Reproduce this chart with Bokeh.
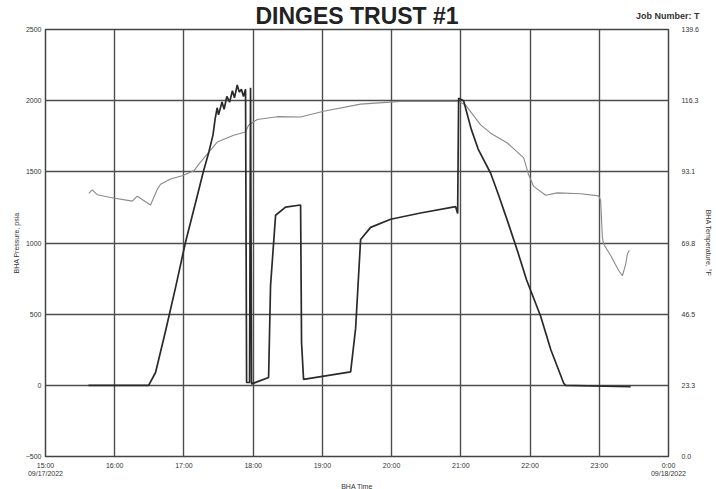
from bokeh.plotting import figure
from bokeh.models import Range1d, LinearAxis, FixedTicker, Div
from bokeh.layouts import column
from bokeh.embed import file_html
from bokeh.resources import INLINE

# ---- data (hours since midnight 09/17/2022) ----
press_t = [15.62, 16.49, 16.59, 16.73, 16.88, 17.02, 17.15, 17.28, 17.36, 17.42,
           17.45, 17.48, 17.50, 17.55, 17.58, 17.62, 17.66, 17.70, 17.73, 17.77,
           17.80, 17.83, 17.86, 17.89, 17.905, 17.948, 17.962, 17.977, 18.223,
           18.251, 18.324, 18.468, 18.685, 18.699, 18.728, 19.408, 19.480,
           19.552, 19.697, 19.986, 20.419, 20.925, 20.954, 20.968, 21.040,
           21.15, 21.25, 21.431, 21.55, 21.676, 21.821, 21.95, 22.153, 22.30,
           22.486, 22.514, 23.454]
press_v = [0, 0, 90, 373, 690, 1000, 1250, 1500, 1640, 1760,
           1870, 1950, 1900, 1990, 1940, 2030, 1990, 2070, 2020, 2110,
           2060, 2080, 2030, 2080, 20, 20, 2090, 10, 55,
           700, 1195, 1252, 1267, 300, 42, 95, 400,
           1024, 1110, 1167, 1211, 1255, 1207, 2017, 2000,
           1800, 1660, 1490, 1330, 1152, 940, 740, 485, 250,
           15, 0, -10]

temp_t = [15.626, 15.675, 15.747, 15.939, 16.253, 16.325, 16.517, 16.614,
          16.662, 16.806, 16.975, 17.143, 17.215, 17.481, 17.717, 17.890,
          17.933, 18.059, 18.348, 18.685, 19.017, 19.552, 20.130, 20.968,
          21.069, 21.286, 21.431, 21.672, 21.908, 21.980, 22.052, 22.225,
          22.395, 22.731, 22.991, 23.020, 23.045, 23.064, 23.165, 23.280,
          23.334, 23.382, 23.406, 23.434]
temp_v = [86.0, 87.2, 85.6, 84.7, 83.5, 85.1, 82.2, 87.3,
          89.0, 90.7, 91.8, 93.4, 95.6, 102.8, 105.0, 106.1,
          108.3, 110.2, 111.1, 111.0, 112.9, 115.2, 116.1, 116.1,
          114.9, 108.4, 105.7, 102.5, 97.6, 92.1, 88.3, 85.4,
          86.2, 85.9, 85.2, 83.7, 71.6, 69.4, 65.7, 60.8,
          59.1, 62.9, 66.2, 67.4]

x_ticks = [15, 16, 17, 18, 19, 20, 21, 22, 23, 24]
x_labels = ["15:00\n09/17/2022", "16:00", "17:00", "18:00", "19:00", "20:00",
            "21:00", "22:00", "23:00", "0:00\n09/18/2022"]
p_ticks = [-500, 0, 500, 1000, 1500, 2000, 2500]
t_ticks = [0.0, 23.27, 46.53, 69.8, 93.07, 116.33, 139.6]
t_labels = ["0.0", "23.3", "46.5", "69.8", "93.1", "116.3", "139.6"]
job_text = "Job Number: T"

FONT = "Liberation Sans"
GRID = "#4d4d4d"
FW, FH = 623, 427
LB, RB, TB, BB = 45, 42, 28, 32

p = figure(frame_width=FW, frame_height=FH, output_backend="svg",
           toolbar_location=None,
           x_range=Range1d(15, 24), y_range=Range1d(-500, 2500),
           min_border_left=LB, min_border_right=RB, min_border_top=TB,
           min_border_bottom=BB)
p.extra_y_ranges = {"temp": Range1d(0, 139.6)}
p.border_fill_alpha = 0.0
p.margin = (0, 0, 0, 0)

p.title.text = "DINGES TRUST #1"
p.title.align = "center"
p.title.text_font = FONT
p.title.text_font_size = "23px"
p.title.text_font_style = "bold"
p.title.text_color = "#222222"
p.title.standoff = 1
p.title.offset = -10

p.outline_line_color = "#444444"
p.outline_line_width = 1.5

# axes
xa = p.xaxis[0]
xa.ticker = FixedTicker(ticks=x_ticks)
xa.major_label_overrides = {t: l for t, l in zip(x_ticks, x_labels)}
xa.axis_label = "BHA Time"
ya = p.yaxis[0]
ya.ticker = FixedTicker(ticks=p_ticks)
ya.axis_label = "BHA Pressure, psia"
ra = LinearAxis(y_range_name="temp", ticker=FixedTicker(ticks=t_ticks),
                axis_label="BHA Temperature, °F")
ra.major_label_overrides = {t: l for t, l in zip(t_ticks, t_labels)}
p.add_layout(ra, "right")

for ax in (xa, ya, ra):
    ax.major_label_text_font = FONT
    ax.major_label_text_font_size = "7px"
    ax.major_label_text_color = "#333333"
    ax.axis_label_text_font = FONT
    ax.axis_label_text_font_size = "7px"
    ax.axis_label_text_font_style = "normal"
    ax.axis_label_text_color = "#333333"
    ax.major_tick_out = 0
    ax.major_tick_in = 0
    ax.minor_tick_out = 0
    ax.minor_tick_in = 0
    ax.axis_line_color = None
    ax.major_label_standoff = 4
    ax.axis_label_standoff = 3
ra.major_label_standoff = 13
xa.major_label_standoff = 5

p.xgrid.ticker = FixedTicker(ticks=x_ticks)
p.ygrid.ticker = FixedTicker(ticks=p_ticks)
for g in (p.xgrid[0], p.ygrid[0]):
    g.grid_line_color = GRID
    g.grid_line_width = 1.4
    g.grid_line_alpha = 1.0

p.line(temp_t, temp_v, y_range_name="temp", line_color="#8a8a8a", line_width=1.1)
p.line(press_t, press_v, line_color="#2a2a2a", line_width=1.7)

job = Div(text=('<div style="position:absolute; left:636px; top:10px; '
                'font-family:\'Liberation Sans\'; font-size:9px; font-weight:bold; '
                'color:#333333; white-space:nowrap;">' + job_text + '</div>'),
          width=LB + FW + RB, height=0, margin=(0, 0, 0, 0),
          styles={"overflow": "visible", "z-index": "10", "position": "relative"})

layout = column(job, p, spacing=0)

open("out.html", "w").write(file_html(layout, INLINE))
